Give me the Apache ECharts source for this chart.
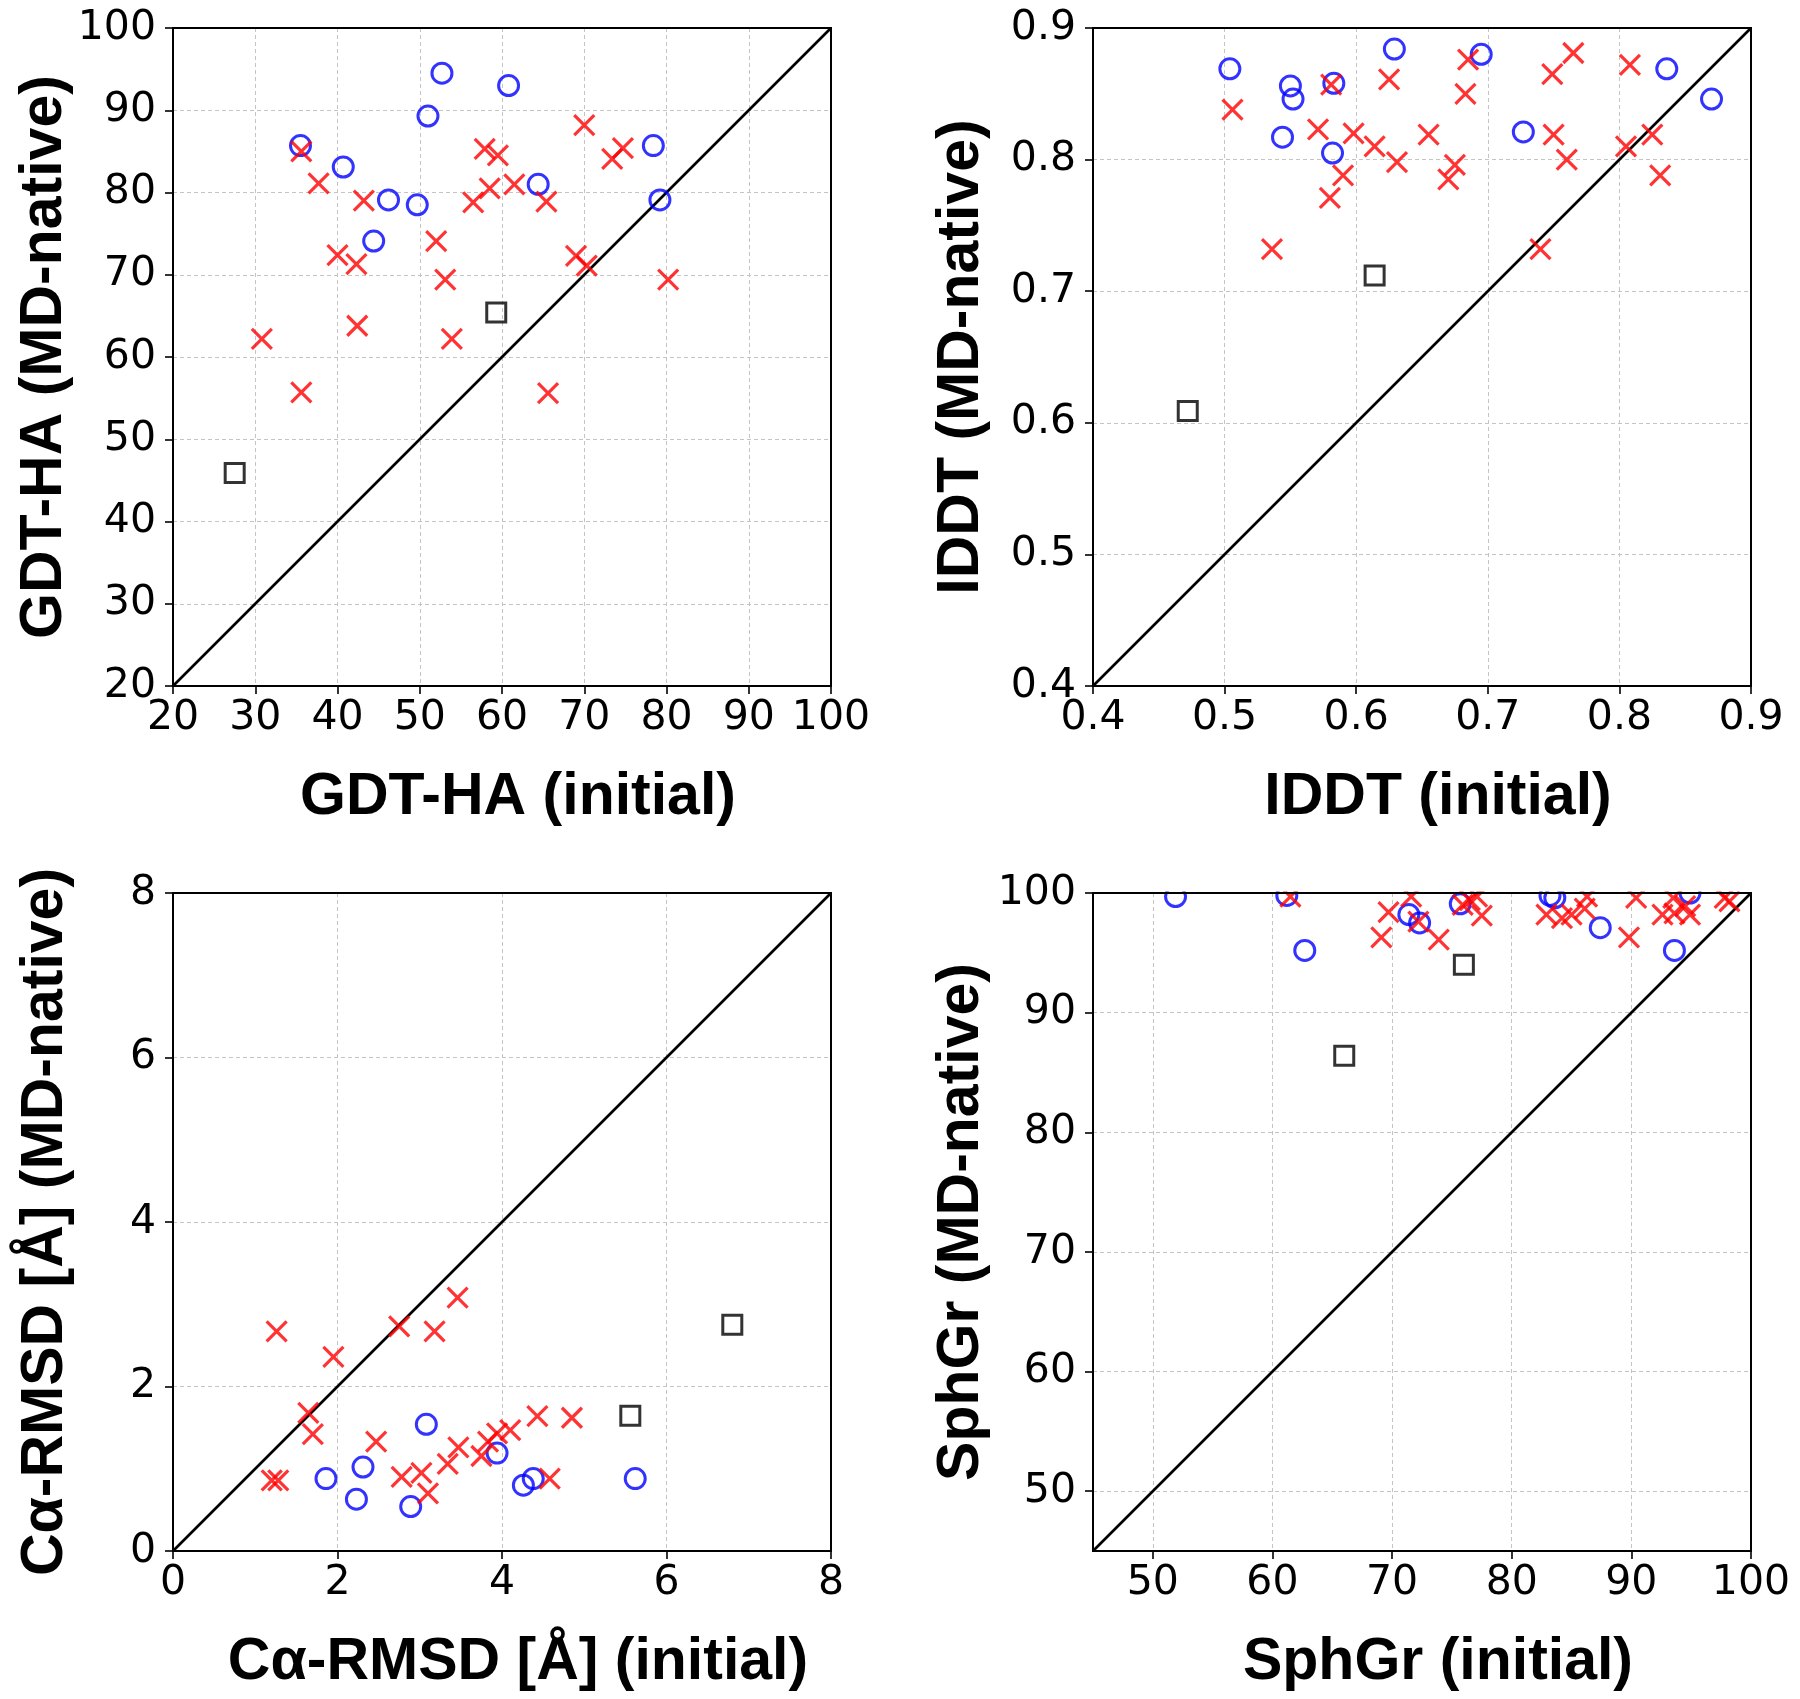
<!DOCTYPE html>
<html>
<head>
<meta charset="utf-8">
<script src="https://cdn.jsdelivr.net/npm/echarts@6/dist/echarts.min.js"></script>
<style>
html,body{margin:0;padding:0;background:#fff;}
#c{width:1800px;height:1699px;}
</style>
</head>
<body>
<div id="c"></div>
<script>
// ---------- DATA ----------
// Panel 1: GDT-HA
const gdtCircles = [[35.5,85.7],[40.7,83.1],[51.0,89.3],[52.7,94.5],[60.8,93.0],[46.2,79.1],[49.7,78.5],[44.4,74.1],[64.4,81.0],[78.4,85.7],[79.2,79.1]];
const gdtCrosses = [[35.6,85.0],[37.7,81.1],[43.2,79.0],[40.0,72.4],[42.3,71.3],[42.4,63.8],[30.8,62.2],[35.6,55.7],[52.0,74.1],[53.1,69.4],[53.9,62.2],[56.5,78.8],[57.9,85.3],[58.5,80.5],[59.5,84.5],[61.5,81.0],[65.4,78.9],[65.6,55.6],[70.0,88.2],[69.0,72.3],[70.3,71.1],[73.4,84.1],[74.7,85.4],[80.2,69.4]];
const gdtSquares = [[27.5,45.9],[59.3,65.4]];
const gdtRange = [20, 100];

// Panel 2: IDDT
const lddtCircles = [[0.504,0.869],[0.550,0.856],[0.552,0.846],[0.544,0.817],[0.583,0.858],[0.582,0.805],[0.629,0.884],[0.695,0.880],[0.727,0.821],[0.836,0.869],[0.870,0.846]];
const lddtCrosses = [[0.506,0.838],[0.536,0.732],[0.571,0.823],[0.581,0.857],[0.580,0.771],[0.590,0.788],[0.598,0.820],[0.614,0.810],[0.625,0.861],[0.631,0.798],[0.655,0.819],[0.670,0.785],[0.675,0.796],[0.683,0.850],[0.685,0.876],[0.740,0.732],[0.749,0.865],[0.750,0.819],[0.760,0.800],[0.765,0.881],[0.808,0.872],[0.805,0.810],[0.825,0.819],[0.831,0.788]];
const lddtSquares = [[0.472,0.609],[0.614,0.712]];
const lddtRange = [0.4, 0.9];

// Panel 3: Ca-RMSD
const rmsdCircles = [[1.86,0.88],[2.31,1.02],[2.23,0.63],[3.08,1.54],[2.89,0.54],[3.94,1.19],[4.26,0.80],[4.38,0.88],[5.62,0.88]];
const rmsdCrosses = [[1.26,2.67],[1.95,2.36],[2.75,2.73],[3.18,2.67],[3.46,3.08],[1.645,1.68],[1.70,1.42],[1.20,0.86],[1.28,0.86],[2.47,1.33],[2.78,0.90],[3.02,0.95],[3.10,0.70],[3.34,1.06],[3.47,1.26],[3.75,1.155],[3.83,1.33],[3.94,1.43],[4.10,1.47],[4.43,1.64],[4.85,1.62],[4.58,0.88]];
const rmsdSquares = [[5.56,1.645],[6.80,2.75]];
const rmsdRange = [0, 8];

// Panel 4: SphGr
const sphCircles = [[51.9,99.7],[61.2,99.8],[62.7,95.2],[71.4,98.2],[72.3,97.5],[75.7,99.1],[83.2,99.8],[83.6,99.6],[87.4,97.1],[93.6,95.2],[94.9,100]];
const sphCrosses = [[61.5,99.7],[69.7,98.4],[69.1,96.3],[71.6,99.7],[72.2,97.6],[73.9,96.1],[75.9,99.0],[76.5,99.4],[77.1,99.7],[77.5,98.1],[82.9,98.2],[84.2,97.9],[85.0,98.2],[86.1,98.7],[86.3,99.7],[89.8,96.3],[90.4,99.6],[92.6,98.2],[93.6,98.3],[93.5,99.6],[94.5,98.9],[94.9,98.2],[97.8,99.6],[98.2,99.3]];
const sphSquares = [[76.0,94.0],[66.0,86.4]];
const sphRange = [45, 100];

const titlesX = ['GDT-HA (initial)', 'IDDT (initial)', 'C\u03b1-RMSD [\u00c5] (initial)', 'SphGr (initial)'];
const titlesY = ['GDT-HA (MD-native)', 'IDDT (MD-native)', 'C\u03b1-RMSD [\u00c5] (MD-native)', 'SphGr (MD-native)'];
// ---------- END DATA ----------

const panels = [
  {c: gdtCircles, x: gdtCrosses, s: gdtSquares, r: gdtRange, interval: 10, dec: 0},
  {c: lddtCircles, x: lddtCrosses, s: lddtSquares, r: lddtRange, interval: 0.1, dec: 1},
  {c: rmsdCircles, x: rmsdCrosses, s: rmsdSquares, r: rmsdRange, interval: 2, dec: 0},
  {c: sphCircles, x: sphCrosses, s: sphSquares, r: sphRange, interval: null, dec: 0}
];

const PW = 658, PH = 658;
const lefts = [173, 1093, 173, 1093];
const tops = [28, 28, 893, 893];
const yGaps = [98, 102, 98, 102];

const tickFont = {fontFamily: 'DejaVu Sans', fontSize: 41, color: '#000'};
const titleFont = {fontFamily: 'Liberation Sans', fontSize: 59, fontWeight: 'bold', color: '#000'};

const grids = [], xAxes = [], yAxes = [], series = [];

function axisCfg(p, isX, i) {
  const cfg = {
    type: 'value',
    gridIndex: i,
    min: p.r[0],
    max: p.r[1],
    axisLine: {show: true, onZero: false, lineStyle: {color: '#000', width: 2}},
    axisTick: {show: true, inside: false, length: 8, lineStyle: {color: '#000', width: 1.6}},
    axisLabel: Object.assign({
      margin: isX ? 12 : 17,
      showMinLabel: p.interval !== null,
      formatter: v => p.dec ? (+v).toFixed(p.dec) : String(Math.round(v))
    }, tickFont),
    splitLine: {show: true, lineStyle: {color: '#c4c4c4', width: 1, type: [4, 3]}},
    name: isX ? titlesX[i] : titlesY[i],
    nameLocation: 'middle',
    nameGap: isX ? 82 : yGaps[i],
    nameTextStyle: Object.assign({padding: isX ? [0, 0, 0, 32] : [0, 0, 0, 0]}, titleFont)
  };
  if (p.interval !== null) cfg.interval = p.interval;
  else cfg.splitNumber = 5;
  return cfg;
}

function frameAxis(p, i, pos) {
  return {
    type: 'value', gridIndex: i, position: pos, min: p.r[0], max: p.r[1], z: 10,
    axisLine: {show: true, onZero: false, lineStyle: {color: '#000', width: 2}},
    axisTick: {show: false}, axisLabel: {show: false}, splitLine: {show: false}
  };
}

panels.forEach((p, i) => {
  grids.push({left: lefts[i], top: tops[i], width: PW, height: PH, show: true,
    borderColor: '#000', borderWidth: 2, backgroundColor: 'transparent', containLabel: false});
  xAxes.push(axisCfg(p, true, i));
  yAxes.push(axisCfg(p, false, i));
  series.push({
    type: 'line', xAxisIndex: i, yAxisIndex: i, data: [[p.r[0], p.r[0]], [p.r[1], p.r[1]]],
    symbol: 'none', lineStyle: {color: '#000', width: 2.6}, z: 1, silent: true, animation: false
  });
  series.push({
    type: 'scatter', xAxisIndex: i, yAxisIndex: i, data: p.c, symbol: 'circle', symbolSize: 20,
    itemStyle: {color: 'rgba(0,0,0,0)', borderColor: '#0000ff', borderWidth: 3}, z: 3, animation: false, clip: false
  });
  series.push({
    type: 'scatter', xAxisIndex: i, yAxisIndex: i, data: p.x,
    symbol: 'path://M0,0L20,20M20,0L0,20', symbolKeepAspect: true, symbolSize: 20,
    itemStyle: {color: '#ff0000', borderColor: '#ff0000', borderWidth: 3.2}, z: 4, animation: false, clip: false
  });
  series.push({
    type: 'scatter', xAxisIndex: i, yAxisIndex: i, data: p.s, symbol: 'rect', symbolSize: 19,
    itemStyle: {color: 'rgba(0,0,0,0)', borderColor: '#000', borderWidth: 3}, z: 5, animation: false, clip: false
  });
});
// frame axes (top and right borders) drawn above the split lines
panels.forEach((p, i) => {
  xAxes.push(frameAxis(p, i, 'top'));
  yAxes.push(frameAxis(p, i, 'right'));
});

const chart = echarts.init(document.getElementById('c'), null, {renderer: 'canvas'});
chart.setOption({
  animation: false,
  backgroundColor: '#fff',
  grid: grids,
  xAxis: xAxes,
  yAxis: yAxes,
  series: series,
  graphic: [{
    type: 'rect', z: 100, silent: true,
    shape: {x: lefts[3] - 2, y: tops[3] - 25, width: PW + 4, height: 23.5},
    style: {fill: '#fff'}
  }]
});
</script>
</body>
</html>
